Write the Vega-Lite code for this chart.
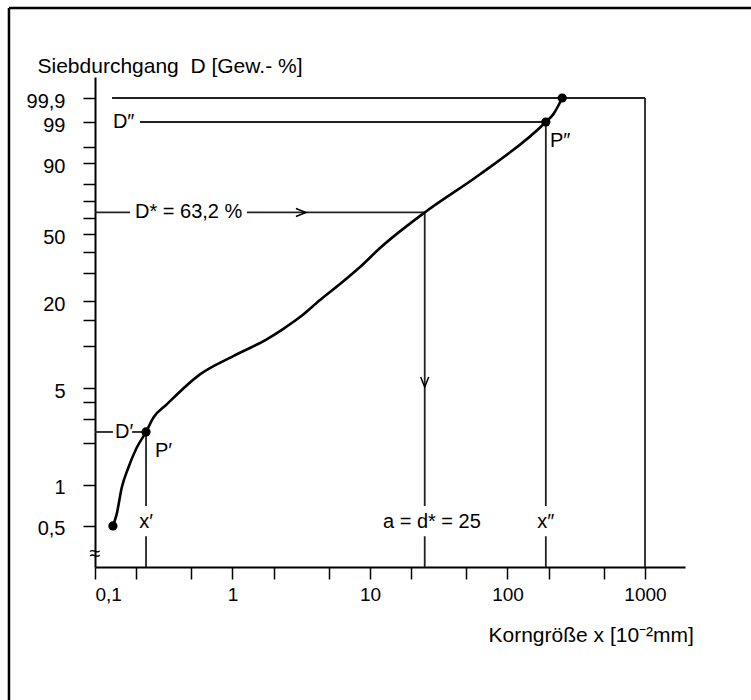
{
  "$schema": "https://vega.github.io/schema/vega-lite/v6.json",
  "width": 590,
  "height": 490,
  "autosize": {"type": "none"},
  "padding": {"left": 95, "top": 77, "right": 66, "bottom": 133},
  "background": "white",
  "config": {
    "view": {"stroke": null},
    "font": "Liberation Sans",
    "text": {"font": "Liberation Sans"},
    "axis": {
      "grid": false,
      "domainColor": "#000000",
      "domainWidth": 2,
      "tickColor": "#000000",
      "tickWidth": 1.5,
      "tickSize": 12,
      "labelFont": "Liberation Sans",
      "labelColor": "#000000",
      "titleFont": "Liberation Sans",
      "titleFontWeight": "normal",
      "titleColor": "#000000"
    },
    "axisX": {
      "labelFontSize": 19,
      "labelPadding": 6,
      "titleFontSize": 21,
      "titleX": 393,
      "titleY": 74,
      "titleAlign": "left",
      "titleBaseline": "alphabetic"
    },
    "axisY": {
      "labelFontSize": 20,
      "labelPadding": 18,
      "labelOffset": 3,
      "titleFontSize": 21,
      "titleAngle": 0,
      "titleX": -58,
      "titleY": -5,
      "titleAlign": "left",
      "titleBaseline": "alphabetic"
    }
  },
  "datasets": {
    "segs": [
      {"x": 0.133, "x2": 1000, "D": 99.9, "D2": 99.9},
      {"x": 1000, "x2": 1000, "D": 99.9, "D2": 0.25},
      {"x": 0.2125, "x2": 190, "D": 99, "D2": 99},
      {"x": 190, "x2": 190, "D": 99, "D2": 0.7},
      {"x": 190, "x2": 190, "D": 0.42, "D2": 0.25},
      {"x": 0.1, "x2": 0.18, "D": 63.2, "D2": 63.2},
      {"x": 1.275, "x2": 25, "D": 63.2, "D2": 63.2},
      {"x": 25, "x2": 25, "D": 63.2, "D2": 0.7},
      {"x": 25, "x2": 25, "D": 0.42, "D2": 0.25},
      {"x": 0.1, "x2": 0.135, "D": 2.42, "D2": 2.42},
      {"x": 0.186, "x2": 0.235, "D": 2.42, "D2": 2.42},
      {"x": 0.235, "x2": 0.235, "D": 2.42, "D2": 0.7},
      {"x": 0.235, "x2": 0.235, "D": 0.42, "D2": 0.25}
    ],
    "frame": [
      {"x": 0.02368, "x2": 0.02368, "D": 99.99999999999813, "D2": 0.02647},
      {"x": 0.02368, "x2": 6000, "D": 99.99999999999813, "D2": 99.99999999999813}
    ],
    "curve": [
      {"x": 0.135, "D": 0.5},
      {"x": 0.1438, "D": 0.61},
      {"x": 0.1564, "D": 0.95},
      {"x": 0.1747, "D": 1.33},
      {"x": 0.201, "D": 1.86},
      {"x": 0.235, "D": 2.42},
      {"x": 0.2655, "D": 3.07},
      {"x": 0.3323, "D": 3.83},
      {"x": 0.58, "D": 6.28},
      {"x": 1.013, "D": 8.45},
      {"x": 1.773, "D": 11.06},
      {"x": 2.329, "D": 13.01},
      {"x": 3.097, "D": 15.69},
      {"x": 4.33, "D": 20.35},
      {"x": 6.05, "D": 25.77},
      {"x": 8.46, "D": 32.79},
      {"x": 11.82, "D": 42.17},
      {"x": 25, "D": 63.2},
      {"x": 63.1, "D": 85.1},
      {"x": 190, "D": 99},
      {"x": 215, "D": 99.47},
      {"x": 250, "D": 99.9}
    ],
    "pts": [
      {"x": 0.135, "D": 0.5},
      {"x": 0.235, "D": 2.42},
      {"x": 190, "D": 99},
      {"x": 250, "D": 99.9}
    ],
    "arrows": [
      {"x": 3.42, "D": 63.2, "dir": "right"},
      {"x": 25, "D": 5.1, "dir": "down"}
    ],
    "labels": [
      {"x": 0.135, "D": 99, "text": "D″", "pos": "left"},
      {"x": 0.1954, "D": 63.2, "text": "D* = 63,2 %", "pos": "left"},
      {"x": 0.1398, "D": 2.42, "text": "D′", "pos": "left"},
      {"x": 0.273, "D": 1.76, "text": "P′", "pos": "left"},
      {"x": 203.7, "D": 96.45, "text": "P″", "pos": "left"},
      {"x": 12.43, "D": 0.53, "text": "a = d* = 25", "pos": "left"},
      {"x": 0.235, "D": 0.53, "text": "x′", "pos": "center"},
      {"x": 190, "D": 0.53, "text": "x″", "pos": "center"},
      {"x": 0.1, "D": 0.311, "text": "≈", "pos": "center"}
    ]
  },
  "layer": [
    {
      "data": {"name": "segs"},
      "transform": [
        {"calculate": "log(-log(1 - datum.D / 100)) / LN10", "as": "f"},
        {"calculate": "log(-log(1 - datum.D2 / 100)) / LN10", "as": "f2"}
      ],
      "mark": {"type": "rule", "color": "#222222", "strokeWidth": 1.8},
      "encoding": {
        "x": {
          "field": "x",
          "type": "quantitative",
          "title": "Korngröße x [10⁻²mm]",
          "scale": {"type": "log", "domain": [0.1, 1954], "nice": false, "zero": false},
          "axis": {
            "values": [0.1, 0.2, 0.5, 1, 2, 5, 10, 20, 50, 100, 200, 500, 1000],
            "tickCount": 100,
            "labelOverlap": false,
            "labelExpr": "datum.value == 0.1 ? '0,1' : datum.value == 1 ? '1' : datum.value == 10 ? '10' : datum.value == 100 ? '100' : datum.value == 1000 ? '1000' : ''"
          }
        },
        "x2": {"field": "x2"},
        "y": {
          "field": "f",
          "type": "quantitative",
          "title": "Siebdurchgang\u00a0 D [Gew.- %]",
          "scale": {"type": "linear", "domain": [-2.601516, 0.9935], "nice": false, "zero": false},
          "axis": {
            "values": [-2.299943, -1.997818, -1.694591, -1.516281, -1.389106, -1.289939, -0.977321, -0.789096, -0.651416, -0.447727, -0.291727, -0.159176, -0.037957, 0.080616, 0.206671, 0.362216, 0.476504, 0.66325, 0.839337],
            "tickCount": 100,
            "labelOverlap": false,
            "labelExpr": "abs(datum.value + 2.299943) < 0.001 ? '0,5' : abs(datum.value + 1.997818) < 0.001 ? '1' : abs(datum.value + 1.289939) < 0.001 ? '5' : abs(datum.value + 0.651416) < 0.001 ? '20' : abs(datum.value + 0.159176) < 0.001 ? '50' : abs(datum.value - 0.362216) < 0.001 ? '90' : abs(datum.value - 0.66325) < 0.001 ? '99' : abs(datum.value - 0.839337) < 0.001 ? '99,9' : ''"
          }
        },
        "y2": {"field": "f2"}
      }
    },
    {
      "data": {"name": "frame"},
      "transform": [
        {"calculate": "log(-log(1 - datum.D / 100)) / LN10", "as": "f"},
        {"calculate": "log(-log(1 - datum.D2 / 100)) / LN10", "as": "f2"}
      ],
      "mark": {"type": "rule", "color": "#000000", "strokeWidth": 2.5, "clip": false},
      "encoding": {
        "x": {"field": "x", "type": "quantitative", "title": "Korngröße x [10⁻²mm]"},
        "x2": {"field": "x2"},
        "y": {"field": "f", "type": "quantitative", "title": "Siebdurchgang\u00a0 D [Gew.- %]"},
        "y2": {"field": "f2"}
      }
    },
    {
      "data": {"name": "curve"},
      "transform": [
        {"calculate": "log(-log(1 - datum.D / 100)) / LN10", "as": "f"}
      ],
      "mark": {"type": "line", "color": "#000000", "strokeWidth": 2.6, "interpolate": "monotone"},
      "encoding": {
        "x": {"field": "x", "type": "quantitative", "title": "Korngröße x [10⁻²mm]"},
        "y": {"field": "f", "type": "quantitative", "title": "Siebdurchgang\u00a0 D [Gew.- %]"}
      }
    },
    {
      "data": {"name": "pts"},
      "transform": [
        {"calculate": "log(-log(1 - datum.D / 100)) / LN10", "as": "f"}
      ],
      "mark": {"type": "point", "shape": "circle", "filled": true, "color": "#000000", "size": 85, "opacity": 1},
      "encoding": {
        "x": {"field": "x", "type": "quantitative", "title": "Korngröße x [10⁻²mm]"},
        "y": {"field": "f", "type": "quantitative", "title": "Siebdurchgang\u00a0 D [Gew.- %]"}
      }
    },
    {
      "data": {"name": "arrows"},
      "transform": [
        {"calculate": "log(-log(1 - datum.D / 100)) / LN10", "as": "f"}
      ],
      "mark": {"type": "point", "filled": false, "stroke": "#000000", "strokeWidth": 1.5, "size": 100, "opacity": 1},
      "encoding": {
        "x": {"field": "x", "type": "quantitative", "title": "Korngröße x [10⁻²mm]"},
        "y": {"field": "f", "type": "quantitative", "title": "Siebdurchgang\u00a0 D [Gew.- %]"},
        "shape": {
          "field": "dir",
          "type": "nominal",
          "scale": {"domain": ["right", "down"], "range": ["M-2,-0.8L0,0L-2,0.8", "M-0.8,-2L0,0L0.8,-2"]},
          "legend": null
        }
      }
    },
    {
      "data": {"name": "labels"},
      "transform": [
        {"filter": "datum.pos === 'left'"},
        {"calculate": "log(-log(1 - datum.D / 100)) / LN10", "as": "f"}
      ],
      "mark": {"type": "text", "align": "left", "baseline": "middle", "fontSize": 20, "font": "Liberation Sans", "color": "#000000"},
      "encoding": {
        "x": {"field": "x", "type": "quantitative", "title": "Korngröße x [10⁻²mm]"},
        "y": {"field": "f", "type": "quantitative", "title": "Siebdurchgang\u00a0 D [Gew.- %]"},
        "text": {"field": "text"}
      }
    },
    {
      "data": {"name": "labels"},
      "transform": [
        {"filter": "datum.pos === 'center'"},
        {"calculate": "log(-log(1 - datum.D / 100)) / LN10", "as": "f"}
      ],
      "mark": {"type": "text", "align": "center", "baseline": "middle", "fontSize": 20, "font": "Liberation Sans", "color": "#000000"},
      "encoding": {
        "x": {"field": "x", "type": "quantitative", "title": "Korngröße x [10⁻²mm]"},
        "y": {"field": "f", "type": "quantitative", "title": "Siebdurchgang\u00a0 D [Gew.- %]"},
        "text": {"field": "text"}
      }
    }
  ]
}
